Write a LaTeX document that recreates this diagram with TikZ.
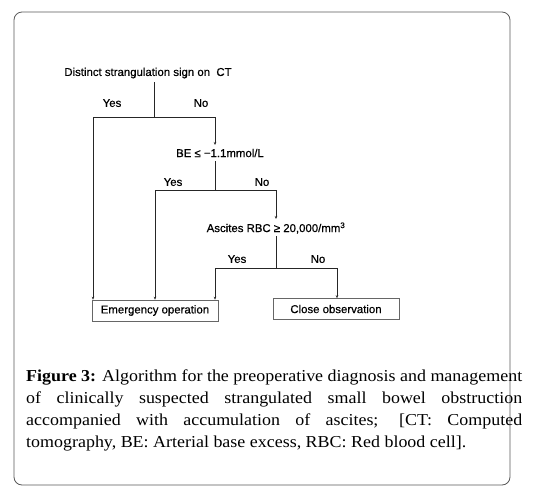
\documentclass[tikz,border=0pt]{standalone}
\usepackage{fontspec}
\setmainfont{Liberation Serif}[FakeStretch=1.075]
\newfontfamily\diagfont{Liberation Sans}[FakeBold=0.5]
\usetikzlibrary{arrows.meta}
\begin{document}
\begin{tikzpicture}[x=1pt,y=-1pt,
  lbl/.style={font=\diagfont\fontsize{11.4}{13}\selectfont, inner sep=0pt},
  box/.style={draw=gray!80!black, line width=0.6pt, minimum width=126pt, minimum height=21pt, inner sep=0pt, font=\diagfont\fontsize{11.4}{13}\selectfont},
  ln/.style={line width=0.7pt, draw=black!85},
  arr/.style={ln, -{Stealth[length=3pt,width=2.5pt]}}]
\useasboundingbox (0,0) rectangle (544,491);
\draw[gray!70!black, line width=0.8pt, rounded corners=8pt] (14,12) rectangle (510,485);
% texts
\node[lbl] (ct) at (148,73) {Distinct strangulation sign on\ \ CT};
\node[lbl] (be) at (220,153) {BE ≤ −1.1mmol/L};
\node[lbl] (rbc) at (276,228) {Ascites RBC ≥ 20,000/mm\textsuperscript{3}};
\node[box] (em) at (155,310.5) {Emergency operation};
\node[box] (co) at (336,309) {Close observation};
% junction coordinates
\coordinate (j1) at (154,117);
\coordinate (j1l) at (93,117);
\coordinate (j1r) at (215,117);
\coordinate (j2) at (215,190);
\coordinate (j2l) at (155,190);
\coordinate (j2r) at (276,190);
\coordinate (j3) at (276,268);
\coordinate (j3l) at (215,268);
\coordinate (j3r) at (337,268);
% labels
\node[lbl] (y1) at (112,103) {Yes};
\node[lbl] (n1) at (201,103) {No};
\node[lbl] (y2) at (173,182) {Yes};
\node[lbl] (n2) at (262,182) {No};
\node[lbl] (y3) at (237,259) {Yes};
\node[lbl] (n3) at (318,259) {No};
% connectors
\draw[ln] (154,82) -- (j1);
\draw[ln] (j1l) -- (j1r);
\draw[arr] (j1l) -- (em.north west -| j1l);
\draw[arr] (j1r) -- (215,145);
\draw[ln] (215,161) -- (j2);
\draw[ln] (j2l) -- (j2r);
\draw[arr] (j2l) -- (em.north -| j2l);
\draw[arr] (j2r) -- (276,219);
\draw[ln] (276,236) -- (j3);
\draw[ln] (j3l) -- (j3r);
\draw[arr] (j3l) -- (em.north -| j3l);
\draw[arr] (j3r) -- (co.north -| j3r);
% caption
\node[anchor=north west, inner sep=0pt, text width=496pt, align=justify, font=\fontsize{16.7}{22}\selectfont] (cap) at (26,370)
{\tolerance=10000\hyphenpenalty=10000\textbf{Figure 3:} Algorithm for the preoperative diagnosis and management\linebreak of clinically suspected strangulated small bowel obstruction\linebreak accompanied with accumulation of ascites; [CT: Computed\linebreak tomography, BE: Arterial base excess, RBC: Red blood cell].};
\end{tikzpicture}
\end{document}
